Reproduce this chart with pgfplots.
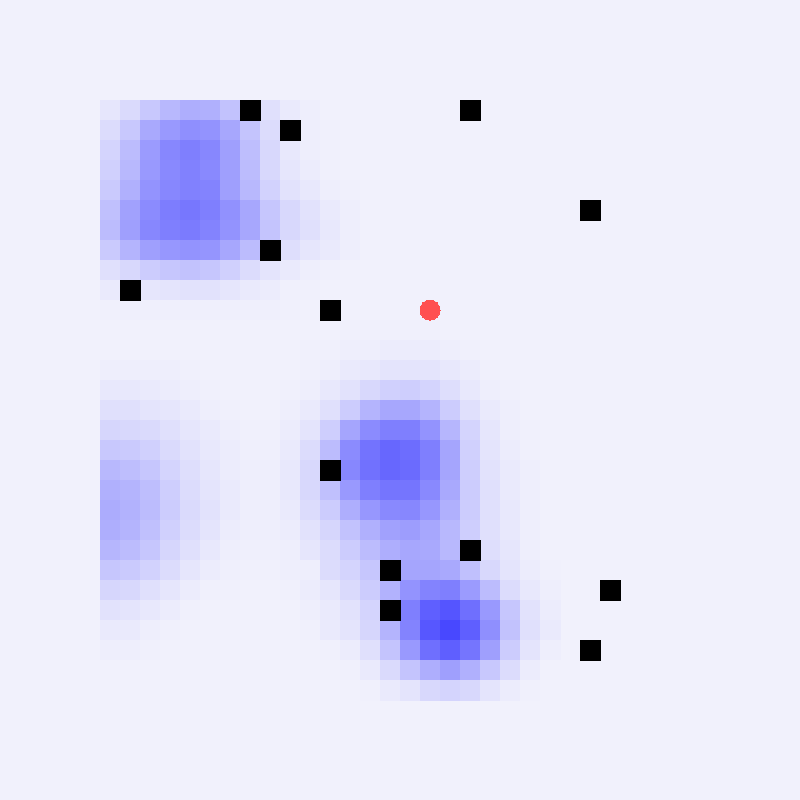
\documentclass[border=0pt]{standalone}
\usepackage{pgfplots}
\pgfplotsset{compat=1.18}
\definecolor{bgc}{RGB}{241,241,252}
\definecolor{ptred}{RGB}{255,80,80}
\begin{document}
\begin{tikzpicture}
\begin{axis}[
  scale only axis, width=400pt, height=400pt,
  xmin=-5.5, xmax=34.5, ymin=-5.5, ymax=34.5, y dir=reverse,
  axis line style={draw=none}, ticks=none,
  axis background/.style={fill=bgc},
  colormap={dens}{rgb255(0)=(241,241,252); rgb255(1)=(72,72,255)},
  point meta min=0, point meta max=169,
]
% density grid: 30 rows x 23 columns, row by row
\addplot[matrix plot*, mesh/cols=23, point meta=explicit]
 table[x expr={mod(\coordindex,23)}, y expr={floor((\coordindex+0.5)/23)}, meta index=0, row sep=\\] {
D\\
11\\ 23\\ 41\\ 57\\ 67\\ 65\\ 47\\ 36\\ 17\\ 7\\ 3\\ 0\\ 0\\ 0\\ 0\\ 0\\ 0\\ 0\\ 0\\ 0\\ 0\\ 0\\ 0\\
21\\ 41\\ 71\\ 87\\ 97\\ 93\\ 73\\ 45\\ 21\\ 12\\ 3\\ 1\\ 0\\ 0\\ 0\\ 0\\ 0\\ 0\\ 0\\ 0\\ 0\\ 0\\ 0\\
29\\ 53\\ 85\\ 105\\ 113\\ 105\\ 81\\ 51\\ 25\\ 9\\ 3\\ 1\\ 0\\ 0\\ 0\\ 0\\ 0\\ 0\\ 0\\ 0\\ 0\\ 0\\ 0\\
33\\ 57\\ 87\\ 103\\ 111\\ 103\\ 81\\ 53\\ 25\\ 11\\ 5\\ 1\\ 0\\ 0\\ 0\\ 0\\ 0\\ 0\\ 0\\ 0\\ 0\\ 0\\ 0\\
39\\ 65\\ 93\\ 105\\ 111\\ 109\\ 81\\ 57\\ 31\\ 15\\ 9\\ 3\\ 1\\ 0\\ 0\\ 0\\ 0\\ 0\\ 0\\ 0\\ 0\\ 0\\ 0\\
49\\ 79\\ 101\\ 115\\ 121\\ 113\\ 95\\ 73\\ 43\\ 25\\ 15\\ 7\\ 3\\ 0\\ 0\\ 0\\ 0\\ 0\\ 0\\ 0\\ 0\\ 0\\ 0\\
53\\ 81\\ 105\\ 113\\ 117\\ 109\\ 93\\ 73\\ 45\\ 25\\ 17\\ 9\\ 3\\ 0\\ 0\\ 0\\ 0\\ 0\\ 0\\ 0\\ 0\\ 0\\ 0\\
39\\ 61\\ 81\\ 89\\ 93\\ 91\\ 73\\ 53\\ 30\\ 19\\ 11\\ 7\\ 3\\ 0\\ 0\\ 0\\ 0\\ 0\\ 0\\ 0\\ 0\\ 0\\ 0\\
17\\ 25\\ 37\\ 43\\ 47\\ 43\\ 33\\ 21\\ 13\\ 7\\ 3\\ 1\\ 0\\ 0\\ 0\\ 0\\ 0\\ 0\\ 0\\ 0\\ 0\\ 0\\ 0\\
7\\ 10\\ 11\\ 13\\ 15\\ 15\\ 11\\ 7\\ 5\\ 1\\ 1\\ 0\\ 0\\ 0\\ 0\\ 0\\ 0\\ 0\\ 0\\ 0\\ 0\\ 0\\ 0\\
1\\ 2\\ 2\\ 2\\ 2\\ 2\\ 2\\ 2\\ 2\\ 1\\ 0\\ 0\\ 0\\ 0\\ 0\\ 0\\ 0\\ 0\\ 0\\ 0\\ 0\\ 0\\ 0\\
0\\ 0\\ 0\\ 0\\ 0\\ 0\\ 0\\ 0\\ 0\\ 0\\ 0\\ 0\\ 1\\ 1\\ 1\\ 1\\ 1\\ 0\\ 0\\ 0\\ 0\\ 0\\ 0\\
0\\ 0\\ 0\\ 0\\ 0\\ 0\\ 0\\ 0\\ 0\\ 0\\ 1\\ 1\\ 3\\ 3\\ 5\\ 5\\ 5\\ 3\\ 1\\ 0\\ 0\\ 0\\ 0\\
3\\ 3\\ 3\\ 3\\ 1\\ 0\\ 0\\ 0\\ 0\\ 0\\ 1\\ 3\\ 7\\ 9\\ 13\\ 13\\ 13\\ 9\\ 5\\ 1\\ 0\\ 0\\ 0\\
9\\ 9\\ 7\\ 5\\ 3\\ 1\\ 0\\ 0\\ 0\\ 1\\ 3\\ 9\\ 15\\ 25\\ 33\\ 35\\ 29\\ 19\\ 9\\ 3\\ 1\\ 0\\ 0\\
17\\ 17\\ 13\\ 11\\ 7\\ 3\\ 1\\ 0\\ 0\\ 3\\ 7\\ 17\\ 37\\ 61\\ 73\\ 73\\ 61\\ 37\\ 17\\ 7\\ 3\\ 0\\ 0\\
27\\ 25\\ 23\\ 17\\ 11\\ 7\\ 3\\ 1\\ 1\\ 5\\ 13\\ 35\\ 75\\ 101\\ 113\\ 113\\ 93\\ 59\\ 29\\ 11\\ 3\\ 1\\ 0\\
41\\ 39\\ 33\\ 23\\ 15\\ 9\\ 5\\ 2\\ 2\\ 7\\ 21\\ 53\\ 101\\ 125\\ 137\\ 131\\ 113\\ 75\\ 33\\ 13\\ 5\\ 1\\ 0\\
57\\ 51\\ 43\\ 29\\ 19\\ 11\\ 5\\ 3\\ 3\\ 9\\ 25\\ 60\\ 105\\ 127\\ 137\\ 133\\ 113\\ 75\\ 35\\ 15\\ 7\\ 3\\ 0\\
65\\ 61\\ 51\\ 35\\ 21\\ 13\\ 7\\ 3\\ 3\\ 9\\ 25\\ 49\\ 87\\ 113\\ 123\\ 123\\ 103\\ 71\\ 37\\ 17\\ 7\\ 3\\ 0\\
69\\ 63\\ 53\\ 37\\ 23\\ 15\\ 7\\ 3\\ 3\\ 7\\ 21\\ 37\\ 67\\ 89\\ 103\\ 105\\ 89\\ 65\\ 37\\ 17\\ 9\\ 3\\ 0\\
67\\ 61\\ 49\\ 33\\ 21\\ 13\\ 5\\ 3\\ 3\\ 5\\ 15\\ 27\\ 47\\ 65\\ 79\\ 83\\ 73\\ 57\\ 35\\ 17\\ 9\\ 3\\ 0\\
59\\ 53\\ 43\\ 27\\ 17\\ 9\\ 3\\ 2\\ 2\\ 3\\ 11\\ 21\\ 37\\ 53\\ 67\\ 73\\ 71\\ 57\\ 40\\ 19\\ 11\\ 3\\ 0\\
43\\ 39\\ 31\\ 21\\ 11\\ 5\\ 2\\ 1\\ 1\\ 3\\ 3\\ 21\\ 29\\ 43\\ 60\\ 75\\ 75\\ 71\\ 49\\ 25\\ 13\\ 5\\ 1\\
27\\ 25\\ 17\\ 11\\ 5\\ 1\\ 1\\ 0\\ 0\\ 1\\ 5\\ 11\\ 23\\ 37\\ 63\\ 93\\ 109\\ 113\\ 85\\ 53\\ 21\\ 9\\ 3\\
15\\ 13\\ 9\\ 5\\ 1\\ 0\\ 0\\ 0\\ 0\\ 0\\ 3\\ 7\\ 15\\ 29\\ 80\\ 113\\ 145\\ 155\\ 129\\ 87\\ 43\\ 15\\ 5\\
7\\ 7\\ 3\\ 1\\ 0\\ 0\\ 0\\ 0\\ 0\\ 0\\ 1\\ 7\\ 13\\ 27\\ 61\\ 109\\ 153\\ 169\\ 145\\ 97\\ 47\\ 17\\ 7\\
3\\ 3\\ 1\\ 0\\ 0\\ 0\\ 0\\ 0\\ 0\\ 0\\ 0\\ 1\\ 5\\ 17\\ 45\\ 87\\ 129\\ 145\\ 123\\ 81\\ 37\\ 13\\ 3\\
0\\ 0\\ 0\\ 0\\ 0\\ 0\\ 0\\ 0\\ 0\\ 0\\ 0\\ 0\\ 1\\ 7\\ 23\\ 45\\ 67\\ 81\\ 65\\ 41\\ 21\\ 5\\ 0\\
0\\ 0\\ 0\\ 0\\ 0\\ 0\\ 0\\ 0\\ 0\\ 0\\ 0\\ 0\\ 0\\ 1\\ 7\\ 13\\ 25\\ 29\\ 25\\ 13\\ 5\\ 1\\ 0\\
};
% observed points
\addplot[only marks, mark=square*, mark size=5pt, draw=black, fill=black, mark options={draw=black, fill=black, line width=0pt}] coordinates {
(7,0) (18,0) (9,1) (24,5) (8,7) (1,9) (11,10) (11,18) (18,22) (14,23) (25,24) (14,25) (24,27)
};
% query point
\addplot[only marks, mark=*, mark size=5pt, draw=ptred, fill=ptred, mark options={draw=ptred, fill=ptred, line width=0pt}] coordinates {(16,10)};
\end{axis}
\end{tikzpicture}
\end{document}
